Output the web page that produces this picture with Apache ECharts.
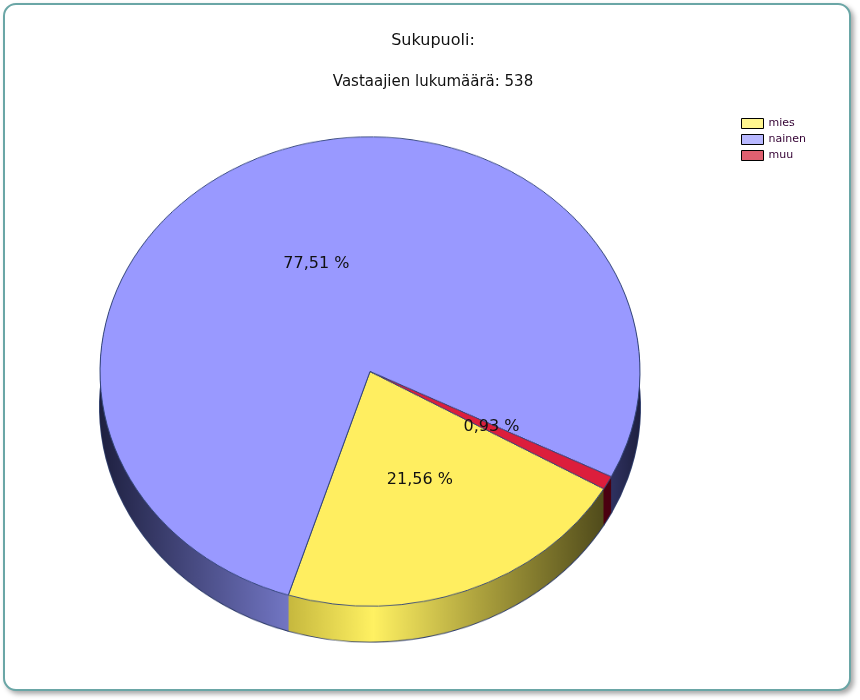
<!DOCTYPE html>
<html><head><meta charset="utf-8">
<script src="https://cdn.jsdelivr.net/npm/echarts@6/dist/echarts.min.js"></script>
<style>
body{margin:0;background:#fff;}
#frame{position:absolute;left:3px;top:3px;width:844px;height:684px;border:2px solid #6aa6a6;border-radius:13px;box-shadow:3px 3px 5px rgba(0,0,0,.35);background:#fff;}
#pie{position:absolute;left:0;top:0;width:860px;height:700px;transform-origin:370px 371.5px;transform:scaleY(0.869);}
#main{position:absolute;left:0;top:0;width:860px;height:700px;}
</style></head>
<body>
<div id="frame"></div>
<div id="pie"></div>
<div id="main"></div>
<script>
// ---- data ----
const titleText = 'Sukupuoli:';
const subtitleText = 'Vastaajien lukumäärä: 538';
const categories = ['mies', 'nainen', 'muu'];
const counts = [116, 417, 5];
const topColors = ['#FFEE60', '#9999FF', '#DC1E3C'];
const legendColors = ['#FFF68F', '#B8B8FF', '#E06070'];

// ---- geometry / style ----
const CX = 370, CY = 371.5, R = 270, K = 0.869, KL = 0.843, DEPTH = 41, START = -30;
const FONT = 'DejaVu Sans';
const G = echarts.graphic.LinearGradient;
const sideColors = [
  new G(0, 0, 1, 0, [{offset:0,color:'#c6b83e'},{offset:0.27,color:'#fff162'},{offset:0.6,color:'#aea33e'},{offset:1,color:'#504b1b'}]),
  new G(0, 0, 1, 0, [{offset:0,color:'#1e2040'},{offset:0.35,color:'#7276c4'},{offset:0.6,color:'#6064a8'},{offset:0.93,color:'#34376a'},{offset:1,color:'#1e2040'}]),
  new G(0, 0, 1, 0, [{offset:0,color:'#7a0018'},{offset:1,color:'#4a0010'}])
];

function pieData(colors) {
  return categories.map((c, i) => ({ name: c, value: counts[i], itemStyle: { color: colors[i] } }));
}
function baseSeries(dy) {
  return {
    type: 'pie', center: [CX, CY + dy], radius: R, startAngle: START, clockwise: true,
    silent: true, animation: false, label: { show: false }, labelLine: { show: false },
    emphasis: { disabled: true }
  };
}

// pie body (drawn in a vertically squashed layer to get an ellipse)
const pieSeries = [];
pieSeries.push(Object.assign(baseSeries(DEPTH), {
  data: pieData(sideColors), itemStyle: { borderColor: '#2f3d6a', borderWidth: 2 }
}));
for (let d = DEPTH; d >= 1; d--) {
  pieSeries.push(Object.assign(baseSeries(d), {
    data: pieData(sideColors), itemStyle: { borderWidth: 0 }
  }));
}
pieSeries.push(Object.assign(baseSeries(0), {
  data: pieData(topColors), itemStyle: { borderColor: '#34467a', borderWidth: 1 }
}));

const pieChart = echarts.init(document.getElementById('pie'), null, { renderer: 'canvas' });
pieChart.setOption({ animation: false, series: pieSeries });

// titles, legend, labels (unsquashed)
const main = echarts.init(document.getElementById('main'), null, { renderer: 'canvas' });
main.setOption({
  animation: false,
  title: [
    { text: titleText, left: 428, textAlign: 'center', top: 28,
      textStyle: { fontFamily: FONT, fontSize: 16, fontWeight: 'normal', color: '#111' } },
    { text: subtitleText, left: 428, textAlign: 'center', top: 70,
      textStyle: { fontFamily: FONT, fontSize: 15, fontWeight: 'normal', color: '#111' } }
  ],
  legend: {
    orient: 'vertical', left: 736, top: 113, icon: 'rect', itemWidth: 22, itemHeight: 10, itemGap: 5,
    selectedMode: false,
    textStyle: { fontFamily: FONT, fontSize: 11, color: '#330033' },
    itemStyle: { borderColor: '#000', borderWidth: 1 },
    data: categories.map((c, i) => ({ name: c, itemStyle: { color: legendColors[i], borderColor: '#000', borderWidth: 1 } }))
  },
  series: [{
    type: 'pie', center: [CX, CY], radius: R, startAngle: START, clockwise: true, silent: true,
    data: pieData(categories.map(() => 'rgba(0,0,0,0)')),
    itemStyle: { borderWidth: 0 },
    label: {
      show: true, position: 'inside', fontFamily: FONT, fontSize: 16, color: '#111',
      formatter: p => p.percent.toFixed(2).replace('.', ',') + ' %'
    },
    labelLine: { show: false },
    labelLayout: function (params) {
      const r = params.labelRect;
      const c = r.y + r.height / 2;
      return { dy: (c - CY) * (KL - 1) };
    },
    emphasis: { disabled: true }
  }]
});
</script>
</body></html>
